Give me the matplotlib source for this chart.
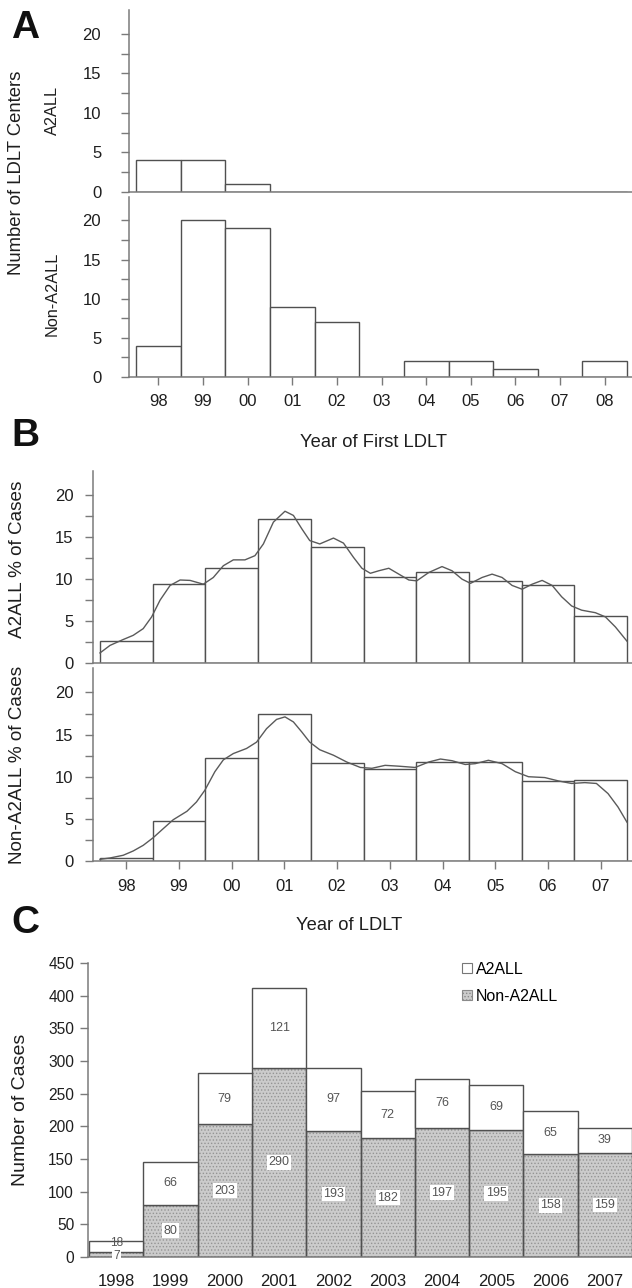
"""
Figure LDLT : centres et cas par annee (A2ALL vs Non-A2ALL)
"""
import matplotlib
matplotlib.use('Agg')
import matplotlib.pyplot as plt
from matplotlib.patches import Patch

plt.rcParams['font.family'] = ['Liberation Sans', 'DejaVu Sans']
plt.rcParams['hatch.linewidth'] = 0.6

# --- Donnees ---
# A : nombre de centres LDLT selon l'annee de la premiere LDLT
years_a = ['98', '99', '00', '01', '02', '03', '04', '05', '06', '07', '08']
centers_a2all = [4, 4, 1, 0, 0, 0, 0, 0, 0, 0, 0]
centers_non = [4, 20, 19, 9, 7, 0, 2, 2, 1, 0, 2]

# B : % des cas par annee
years_b = ['98', '99', '00', '01', '02', '03', '04', '05', '06', '07']
a2all_pct = [2.6, 9.4, 11.3, 17.2, 13.8, 10.3, 10.8, 9.8, 9.3, 5.6]
non_pct = [0.4, 4.8, 12.2, 17.4, 11.6, 10.9, 11.8, 11.7, 9.5, 9.6]

# courbes lissees (lues point par point, x = position de la classe)
a2all_curve_x = [-0.5, -0.31, -0.06, 0.13, 0.32, 0.48, 0.64, 0.83, 1.02, 1.21,
                 1.46, 1.65, 1.84, 2.03, 2.25, 2.44, 2.60, 2.79, 3.01, 3.17,
                 3.33, 3.48, 3.67, 3.93, 4.12, 4.31, 4.47, 4.63, 4.79, 4.98,
                 5.17, 5.36, 5.51, 5.74, 5.99, 6.18, 6.37, 6.53, 6.75, 6.94,
                 7.13, 7.32, 7.51, 7.70, 7.89, 8.08, 8.26, 8.45, 8.64, 8.90,
                 9.09, 9.28, 9.5]
a2all_curve_y = [1.2, 2.1, 2.8, 3.3, 4.1, 5.5, 7.5, 9.25, 9.9, 9.85,
                 9.4, 10.2, 11.6, 12.3, 12.3, 12.8, 14.2, 16.8, 18.1, 17.6,
                 16.0, 14.6, 14.2, 14.9, 14.3, 12.6, 11.3, 10.7, 11.0, 11.3,
                 10.6, 9.9, 9.8, 10.8, 11.5, 11.0, 10.0, 9.5, 10.2, 10.6,
                 10.2, 9.25, 8.8, 9.4, 9.85, 9.25, 7.9, 6.8, 6.3, 6.0,
                 5.5, 4.3, 2.6]
non_curve_x = [-0.5, -0.31, -0.06, 0.13, 0.32, 0.51, 0.70, 0.89, 1.15, 1.33,
               1.49, 1.68, 1.84, 2.03, 2.28, 2.47, 2.66, 2.85, 3.01, 3.17,
               3.33, 3.48, 3.67, 3.93, 4.18, 4.44, 4.66, 4.91, 5.17, 5.48,
               5.74, 5.96, 6.18, 6.43, 6.62, 6.87, 7.13, 7.38, 7.63, 7.94,
               8.20, 8.45, 8.70, 8.92, 9.14, 9.33, 9.5]
non_curve_y = [0.2, 0.36, 0.68, 1.19, 1.86, 2.77, 3.84, 4.9, 5.9, 7.0,
               8.4, 10.6, 12.0, 12.75, 13.35, 14.1, 15.7, 16.8, 17.1, 16.5,
               15.3, 14.1, 13.2, 12.55, 11.75, 11.1, 11.0, 11.35, 11.25, 11.1,
               11.75, 12.1, 11.9, 11.45, 11.55, 11.95, 11.55, 10.6, 10.0, 9.9,
               9.5, 9.2, 9.3, 9.2, 8.0, 6.4, 4.6]

# C : nombre de cas
years_c = ['1998', '1999', '2000', '2001', '2002', '2003', '2004', '2005', '2006', '2007']
cases_a2all = [18, 66, 79, 121, 97, 72, 76, 69, 65, 39]
cases_non = [7, 80, 203, 290, 193, 182, 197, 195, 158, 159]

W, H = 632, 1288
EDGE = '#505050'
SPINE = '#7a7a7a'
TXT = '#1e1e1e'


def box(l, t, r, b):
    """pixels -> coordonnees figure"""
    return [l / W, 1 - b / H, (r - l) / W, (b - t) / H]


def style_axis(ax, ypad):
    for s in ['top', 'right']:
        ax.spines[s].set_visible(False)
    for s in ['left', 'bottom']:
        ax.spines[s].set_color(SPINE)
        ax.spines[s].set_linewidth(1.1)
    ax.tick_params(axis='both', which='both', direction='out', length=6,
                   width=1, color=SPINE, labelcolor=TXT)
    ax.tick_params(axis='y', pad=ypad)


fig = plt.figure(figsize=(W / 100, H / 100), dpi=100)

# ---------------- A ----------------
xa = list(range(len(years_a)))
ax1 = fig.add_axes(box(129, 10, 632, 192))
ax1.bar(xa, centers_a2all, width=1, facecolor='white', edgecolor=EDGE, linewidth=1)
ax2 = fig.add_axes(box(129, 197, 632, 377))
ax2.bar(xa, centers_non, width=1, facecolor='white', edgecolor=EDGE, linewidth=1)
for ax in (ax1, ax2):
    style_axis(ax, 14)
    ax.set_xlim(-0.657, 10.61)
    ax.set_ylim(0, 23)
    ax.set_yticks([0, 5, 10, 15, 20])
    ax.set_yticks([2.5, 7.5, 12.5, 17.5], minor=True)
    ax.tick_params(axis='y', labelsize=12)
ax1.set_xticks([])
ax2.set_xticks(xa)
ax2.set_xticklabels(years_a, fontsize=12)
ax2.tick_params(axis='x', pad=6)

fig.text(17 / W, 1 - 173 / H, 'Number of LDLT Centers', rotation=90,
         ha='center', va='center', fontsize=13.3, color=TXT)
fig.text(52 / W, 1 - 110 / H, 'A2ALL', rotation=90, ha='center', va='center',
         fontsize=11.7, color=TXT)
fig.text(52 / W, 1 - 294 / H, 'Non-A2ALL', rotation=90, ha='center', va='center',
         fontsize=11.7, color=TXT)
fig.text(373 / W, 1 - 442 / H, 'Year of First LDLT', ha='center', va='center',
         fontsize=13.2, color=TXT)

# ---------------- B ----------------
xb = list(range(len(years_b)))
ax3 = fig.add_axes(box(93, 471, 632, 663))
ax3.bar(xb, a2all_pct, width=1, facecolor='white', edgecolor=EDGE, linewidth=1)
ax3.plot(a2all_curve_x, a2all_curve_y, color='#5a5a5a', linewidth=1)
ax4 = fig.add_axes(box(93, 668, 632, 861))
ax4.bar(xb, non_pct, width=1, facecolor='white', edgecolor=EDGE, linewidth=1)
ax4.plot(non_curve_x, non_curve_y, color='#5a5a5a', linewidth=1)
for ax in (ax3, ax4):
    style_axis(ax, 8)
    ax.set_xlim(-0.633, 9.595)
    ax.set_ylim(0, 22.9)
    ax.set_yticks([0, 5, 10, 15, 20])
    ax.set_yticks([2.5, 7.5, 12.5, 17.5], minor=True)
    ax.tick_params(axis='y', labelsize=12)
ax3.set_xticks([])
ax4.set_xticks(xb)
ax4.set_xticklabels(years_b, fontsize=12)
ax4.tick_params(axis='x', pad=7)

fig.text(18 / W, 1 - 559 / H, 'A2ALL % of Cases', rotation=90, ha='center',
         va='center', fontsize=13.6, color=TXT)
fig.text(18 / W, 1 - 765 / H, 'Non-A2ALL % of Cases', rotation=90, ha='center',
         va='center', fontsize=13.6, color=TXT)
fig.text(349 / W, 1 - 925 / H, 'Year of LDLT', ha='center', va='center',
         fontsize=13.2, color=TXT)

# ---------------- C ----------------
xc = list(range(len(years_c)))
ax5 = fig.add_axes(box(88, 963, 632, 1257))
ax5.bar(xc, cases_non, width=1, facecolor='#cbcbcb', edgecolor='#949494',
        linewidth=0, hatch='.....')
ax5.bar(xc, cases_non, width=1, fill=False, edgecolor=EDGE, linewidth=1)
ax5.bar(xc, cases_a2all, bottom=cases_non, width=1, facecolor='white',
        edgecolor=EDGE, linewidth=1)
style_axis(ax5, 4)
ax5.set_xlim(-0.52, 9.5)
ax5.set_ylim(0, 450)
ax5.set_yticks(range(0, 451, 50))
ax5.tick_params(axis='y', labelsize=11.2)
ax5.set_xticks(xc)
ax5.set_xticklabels(years_c, fontsize=12)
ax5.tick_params(axis='x', length=0, pad=12)
ax5.set_ylabel('Number of Cases', fontsize=14, color=TXT)
ax5.yaxis.set_label_coords(20 / W - 88 / W, 0.5, transform=None)

# etiquettes des segments (1998 : segments trop fins, on ecarte un peu)
for i in xc:
    ya = cases_non[i] + cases_a2all[i] / 2
    yn = cases_non[i] / 2
    fs = 9
    if i == 0:
        ya, yn, fs = 21, 2, 8.5
    ax5.text(i, ya, str(cases_a2all[i]), ha='center', va='center',
             fontsize=fs, color='#555555')
    ax5.text(i, yn, str(cases_non[i]), ha='center', va='center',
             fontsize=fs, color='#555555',
             bbox=dict(facecolor='white', edgecolor='none', pad=1))

handles = [Patch(facecolor='white', edgecolor='#777777', linewidth=0.8, label='A2ALL'),
           Patch(facecolor='#cbcbcb', edgecolor='#8a8a8a', linewidth=0.8,
                 hatch='.....', label='Non-A2ALL')]
fig.legend(handles=handles, loc='upper left', bbox_to_anchor=(462 / W, 1 - 962 / H),
           frameon=False, fontsize=11.5, handlelength=0.6, handleheight=0.6,
           handletextpad=0.25, labelspacing=0.75, borderaxespad=0, borderpad=0)

# lettres des panneaux
for letter, yy in [('A', 28), ('B', 436), ('C', 923)]:
    fig.text(25 / W, 1 - yy / H, letter, ha='center', va='center',
             fontsize=28, fontweight='bold', color='#111111')

fig.savefig('out.png', dpi=100)
